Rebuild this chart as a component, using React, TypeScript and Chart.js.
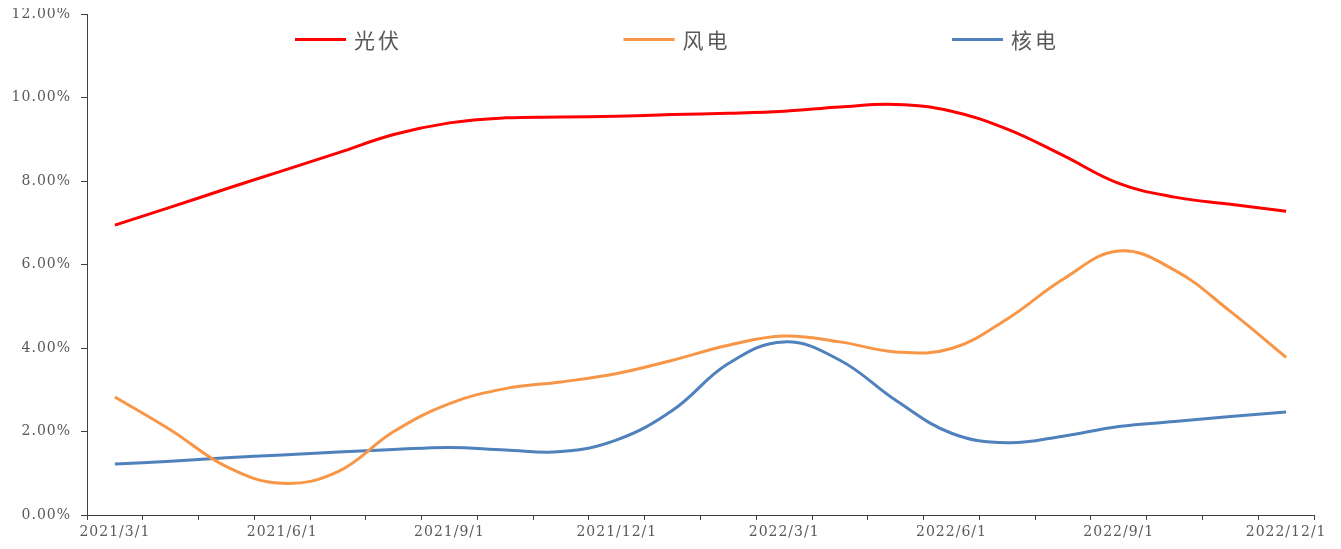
import React, { useEffect, useRef } from "react";
import { Chart, registerables } from "chart.js";

Chart.register(...registerables);

const months = [
  "2021/3/1", "2021/4/1", "2021/5/1", "2021/6/1", "2021/7/1", "2021/8/1",
  "2021/9/1", "2021/10/1", "2021/11/1", "2021/12/1", "2022/1/1", "2022/2/1",
  "2022/3/1", "2022/4/1", "2022/5/1", "2022/6/1", "2022/7/1", "2022/8/1",
  "2022/9/1", "2022/10/1", "2022/11/1", "2022/12/1",
];

const solar = [6.95, 7.38, 7.82, 8.25, 8.68, 9.12, 9.4, 9.52, 9.54, 9.56, 9.6, 9.63, 9.68, 9.78, 9.84, 9.68, 9.25, 8.62, 7.95, 7.62, 7.45, 7.28];
const wind = [2.83, 2.04, 1.16, 0.76, 1.04, 2.0, 2.67, 3.03, 3.19, 3.39, 3.71, 4.07, 4.29, 4.15, 3.91, 3.99, 4.7, 5.65, 6.33, 5.87, 4.88, 3.78];
const nuclear = [1.22, 1.29, 1.37, 1.44, 1.51, 1.57, 1.62, 1.56, 1.52, 1.8, 2.51, 3.63, 4.15, 3.71, 2.75, 1.96, 1.73, 1.89, 2.12, 2.24, 2.36, 2.47];

const seriesNames = ["光伏", "风电", "核电"];
const seriesColors = ["#FF0000", "#F79646", "#4F81BD"];

const yMin = 0;
const yMax = 12;
const yStep = 2;

export default function App() {
  const ref = useRef<HTMLCanvasElement>(null);

  useEffect(() => {
    if (!ref.current) return;

    const spacingPlugin = {
      id: "spacing",
      beforeUpdate(chart: any) {
        chart.ctx.letterSpacing = "1px";
      },
      beforeDraw(chart: any) {
        chart.ctx.letterSpacing = "1px";
      },
    };

    const legendPlugin = {
      id: "customLegend",
      afterDraw(chart: any) {
        const ctx = chart.ctx;
        const ca = chart.chartArea;
        ctx.save();
        ctx.letterSpacing = "3px";
        ctx.font = "21px 'Noto Sans CJK SC'";
        ctx.textBaseline = "middle";
        ctx.textAlign = "left";
        chart.data.datasets.forEach((ds: any, i: number) => {
          const x0 = ca.left + 208 + i * 328.5;
          const y = ca.top + 25;
          ctx.strokeStyle = ds.borderColor;
          ctx.lineWidth = 3;
          ctx.beginPath();
          ctx.moveTo(x0, y);
          ctx.lineTo(x0 + 51, y);
          ctx.stroke();
          ctx.fillStyle = "#595959";
          ctx.fillText(ds.label, x0 + 59, y + 1);
        });
        ctx.restore();
      },
    };

    const seriesData = [solar, wind, nuclear];

    const chart = new Chart(ref.current, {
      type: "line",
      data: {
        labels: months,
        datasets: seriesData.map((d, i) => ({
          label: seriesNames[i],
          data: d,
          borderColor: seriesColors[i],
          backgroundColor: seriesColors[i],
          borderWidth: 3,
          pointRadius: 0,
          tension: 0.4,
          fill: false,
        })),
      },
      options: {
        animation: false,
        responsive: true,
        maintainAspectRatio: false,
        layout: { padding: { left: 0, right: 19, top: 0, bottom: 0 } },
        plugins: {
          legend: { display: false },
          tooltip: { enabled: false },
        },
        scales: {
          x: {
            type: "category",
            offset: true,
            grid: {
              display: true,
              drawOnChartArea: false,
              drawTicks: true,
              tickLength: 5,
              offset: true,
              color: "#404040",
            },
            border: { display: true, color: "#404040", width: 1 },
            ticks: {
              autoSkip: false,
              maxRotation: 0,
              minRotation: 0,
              padding: 4,
              color: "#595959",
              font: { family: "'DejaVu Serif'", size: 14 },
              callback: (_v: any, i: number) => (i % 3 === 0 ? months[i] : ""),
            },
            afterFit: (scale: any) => {
              scale.height = 26;
            },
          },
          y: {
            min: yMin,
            max: yMax,
            grid: {
              display: true,
              drawOnChartArea: false,
              drawTicks: true,
              tickLength: 6,
              color: "#404040",
            },
            border: { display: true, color: "#404040", width: 1 },
            ticks: {
              stepSize: yStep,
              padding: 10,
              color: "#595959",
              font: { family: "'DejaVu Serif'", size: 14 },
              callback: (v: any) => Number(v).toFixed(2) + "%",
            },
            afterFit: (scale: any) => {
              scale.width = 79;
            },
          },
        },
      },
      plugins: [spacingPlugin, legendPlugin],
    } as any);

    return () => chart.destroy();
  }, []);

  return (
    <div style={{ position: "relative", width: 1325, height: 545, marginTop: -12 }}>
      <canvas ref={ref} />
    </div>
  );
}
